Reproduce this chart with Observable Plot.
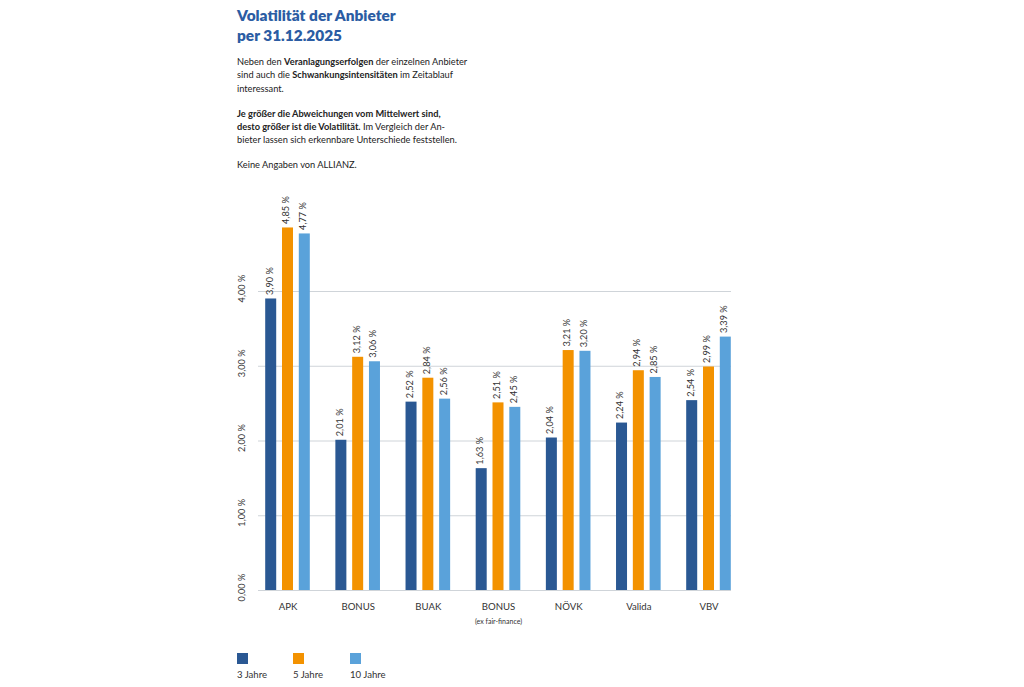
<!DOCTYPE html>
<html lang="de">
<head>
<meta charset="utf-8">
<script src="https://cdn.jsdelivr.net/npm/d3@7"></script>
<script src="https://cdn.jsdelivr.net/npm/@observablehq/plot@0.6"></script>
<style>
  html, body { margin: 0; padding: 0; background: #fff; }
  body { width: 1024px; height: 687px; position: relative; overflow: hidden; font-family: Lato, "Open Sans", sans-serif; color: #2b2b2b; }
  #title { position: absolute; left: 237px; top: 5px; font-size: 15.4px; font-weight: 800; line-height: 20px; color: #2b5ca3; white-space: nowrap; }
  #intro { position: absolute; left: 237px; top: 55px; font-size: 9.25px; line-height: 13.3px; white-space: nowrap; color: #222; }
  #intro p { margin: 0 0 11.7px 0; }
  #chart { position: absolute; left: 230px; top: 180px; }
  #legend { position: absolute; left: 237px; top: 653px; font-size: 9.6px; color: #333; }
  .lg { position: absolute; top: 0; white-space: nowrap; }
  .sw { width: 11px; height: 11px; display: block; }
  .lt { position: absolute; top: 16px; left: 0; }
</style>
</head>
<body>
<div id="title">Volatilität der Anbieter<br>per 31.12.2025</div>
<div id="intro">
  <p>Neben den <b>Veranlagungserfolgen</b> der einzelnen Anbieter<br>sind auch die <b>Schwankungsintensitäten</b> im Zeitablauf<br>interessant.</p>
  <p><b>Je größer die Abweichungen vom Mittelwert sind,<br>desto größer ist die Volatilität.</b> Im Vergleich der An-<br>bieter lassen sich erkennbare Unterschiede feststellen.</p>
  <p>Keine Angaben von ALLIANZ.</p>
</div>
<div id="chart"></div>
<div id="legend"></div>
<script>
// ---- data ----
const providers = ["APK", "BONUS", "BUAK", "BONUS (ex fair-finance)", "NÖVK", "Valida", "VBV"];
const providerLabels = ["APK", "BONUS", "BUAK", "BONUS", "NÖVK", "Valida", "VBV"];
const providerSubLabels = ["", "", "", "(ex fair-finance)", "", "", ""];
const seriesNames = ["3 Jahre", "5 Jahre", "10 Jahre"];
const jahre3 = [3.90, 2.01, 2.52, 1.63, 2.04, 2.24, 2.54];
const jahre5 = [4.85, 3.12, 2.84, 2.51, 3.21, 2.94, 2.99];
const jahre10 = [4.77, 3.06, 2.56, 2.45, 3.20, 2.85, 3.39];
const yTicks = [0, 1, 2, 3, 4];

const seriesValues = [jahre3, jahre5, jahre10];
const colors = ["#2a5893", "#f39200", "#5aa2da"];
const offsets = [-16.8, 0, 16.8];

const fmt = v => v.toFixed(2).replace(".", ",") + " %";
const labelOf = Object.fromEntries(providers.map((p, i) => [p, providerLabels[i]]));
const subData = providers.map((p, i) => ({provider: p, sub: providerSubLabels[i]})).filter(d => d.sub);

const marks = [
  Plot.gridY(yTicks, {stroke: "#cfd4d9", strokeOpacity: 1, strokeWidth: 1})
];
seriesValues.forEach((vals, s) => {
  const data = providers.map((p, i) => ({provider: p, value: vals[i]}));
  marks.push(Plot.barY(data, {x: "provider", y: "value", fill: colors[s], dx: offsets[s]}));
  marks.push(Plot.text(data, {
    x: "provider", y: "value", text: d => fmt(d.value),
    rotate: -90, textAnchor: "start", lineAnchor: "middle",
    dx: offsets[s] - 1.5, dy: -4, fontSize: 9.2, fill: "#333"
  }));
});
marks.push(Plot.axisY({
  ticks: yTicks, tickSize: 0, tickRotate: -90,
  tickPadding: 13.5, dy: -3, tickFormat: fmt, fontSize: 9.2, fill: "#333", label: null
}));
marks.push(Plot.axisX({
  tickSize: 0, tickPadding: 13, tickFormat: d => labelOf[d], fontSize: 9.6, fill: "#333", label: null
}));
marks.push(Plot.text(subData, {
  x: "provider", text: "sub", frameAnchor: "bottom", dy: 33, fontSize: 7, fill: "#333"
}));

const chart = Plot.plot({
  width: 520,
  height: 455,
  marginLeft: 28,
  marginRight: 19,
  marginTop: 36.25,
  marginBottom: 45,
  style: {fontFamily: "Lato, 'Open Sans', sans-serif", background: "transparent"},
  x: {type: "band", domain: providers, paddingInner: 0.8432, paddingOuter: 0.2423, insetLeft: 7, round: false, axis: null},
  y: {domain: [0, 5], axis: null},
  marks
});
document.getElementById("chart").appendChild(chart);

// legend
const legend = document.getElementById("legend");
const lgX = [0, 56, 113];
seriesNames.forEach((name, i) => {
  const el = document.createElement("div");
  el.className = "lg";
  el.style.left = lgX[i] + "px";
  el.innerHTML = `<span class="sw" style="background:${colors[i]}"></span><span class="lt">${name}</span>`;
  legend.appendChild(el);
});
</script>
</body>
</html>
